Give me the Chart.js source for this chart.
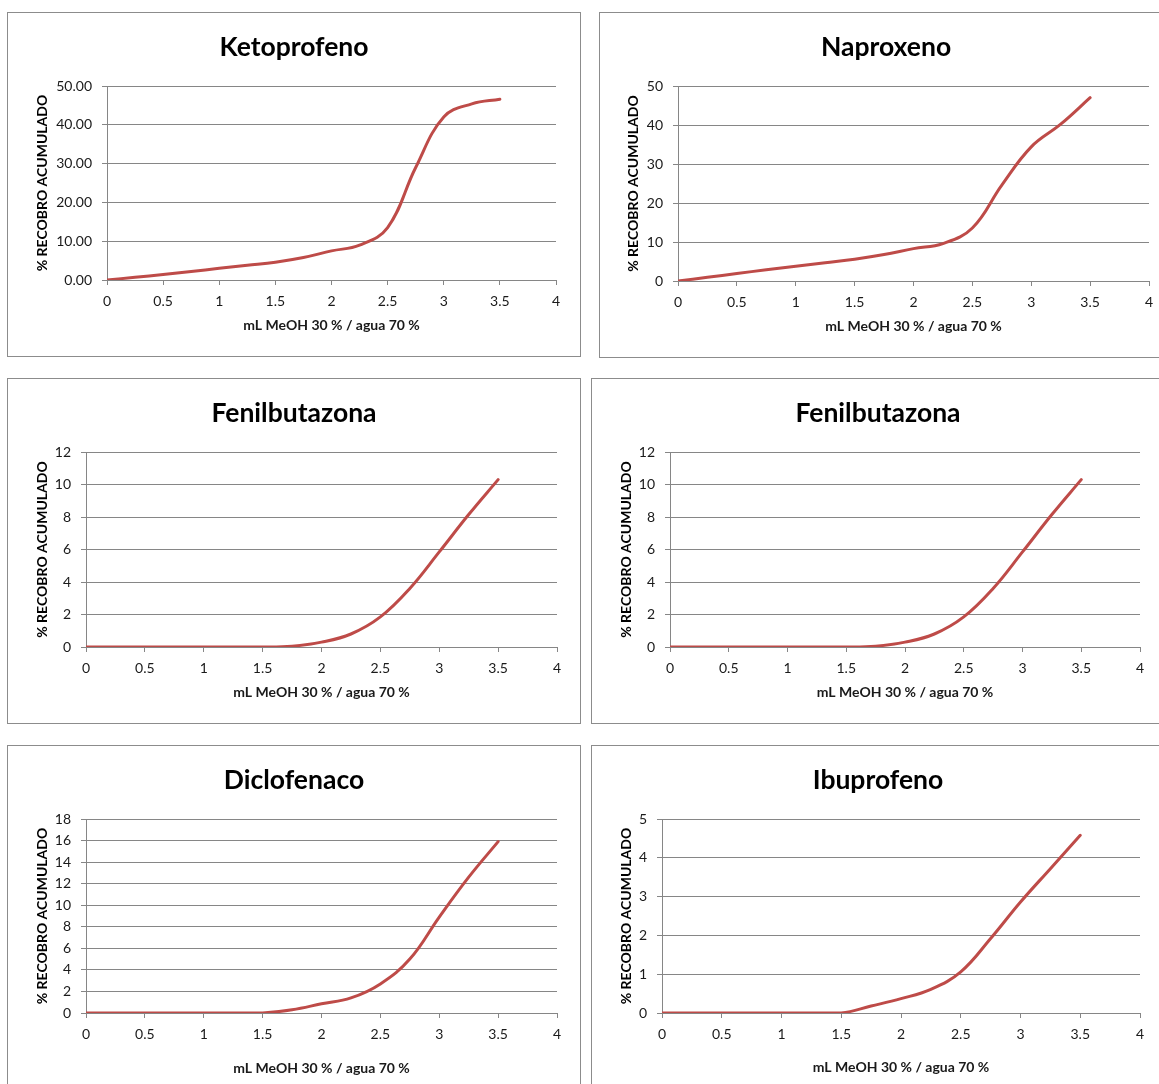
<!DOCTYPE html>
<html>
<head>
<meta charset="utf-8">
<script src="https://cdn.jsdelivr.net/npm/chart.js@4/dist/chart.umd.min.js"></script>
<style>
  html, body { margin: 0; padding: 0; background: #ffffff; overflow: hidden; width: 1159px; height: 1084px; }
  .panel { position: absolute; box-sizing: border-box; border: 1px solid #8c8c8c; background: #fff; }
  .panel canvas { position: absolute; left: 0; top: 0; }
</style>
</head>
<body>
<div id="root"></div>
<script>
// ---------- DATA ----------
const xValues = [0, 0.25, 0.5, 0.75, 1, 1.25, 1.5, 1.75, 2, 2.25, 2.5, 2.75, 3, 3.25, 3.5];
const ketoprofeno   = [0, 0.7, 1.4, 2.2, 3.0, 3.8, 4.6, 5.8, 7.5, 9.0, 13.5, 29.0, 42.0, 45.4, 46.6];
const naproxeno     = [0, 0.95, 1.9, 2.9, 3.8, 4.7, 5.6, 6.8, 8.3, 9.6, 13.6, 24.6, 34.4, 40.2, 47.0];
const fenilbutazona = [0, 0, 0, 0, 0, 0, 0, 0.05, 0.3, 0.8, 1.85, 3.6, 5.85, 8.15, 10.3];
const diclofenaco   = [0, 0, 0, 0, 0, 0, 0, 0.3, 0.85, 1.4, 2.7, 5.0, 8.9, 12.6, 15.9];
const ibuprofeno    = [0, 0, 0, 0, 0, 0, 0, 0.18, 0.37, 0.61, 1.06, 1.92, 2.86, 3.72, 4.58];

const chartTitles = ['Ketoprofeno', 'Naproxeno', 'Fenilbutazona', 'Fenilbutazona', 'Diclofenaco', 'Ibuprofeno'];
const seriesList  = [ketoprofeno, naproxeno, fenilbutazona, fenilbutazona, diclofenaco, ibuprofeno];
const yMaxList    = [50, 50, 12, 12, 18, 5];
const yStepList   = [10, 10, 2, 2, 2, 1];
const yDecimals   = [2, 0, 0, 0, 0, 0];
const xMin = 0, xMax = 4, xStep = 0.5;
const xAxisTitle = 'mL MeOH 30 % / agua 70 %';
const yAxisTitle = '% RECOBRO ACUMULADO';

// ---------- LAYOUT (page pixels) ----------
const layouts = [
  { box: [7, 12, 574, 345],   plot: [107, 86, 556, 280],   titleY: 47,  xTitleY: 325,  yTitleX: 42 },
  { box: [599, 12, 574, 346], plot: [678, 86, 1149, 281],  titleY: 47,  xTitleY: 326,  yTitleX: 633 },
  { box: [7, 378, 574, 346],  plot: [86, 452, 557, 647],   titleY: 413, xTitleY: 692,  yTitleX: 42 },
  { box: [591, 378, 574, 346],plot: [670, 452, 1140, 647], titleY: 413, xTitleY: 692,  yTitleX: 626 },
  { box: [7, 745, 574, 346],  plot: [86, 819, 557, 1013],  titleY: 780, xTitleY: 1068, yTitleX: 42 },
  { box: [591, 745, 574, 346],plot: [662, 819, 1140, 1013],titleY: 780, xTitleY: 1067, yTitleX: 626 }
];

const FONT = "Lato, 'Open Sans', 'DejaVu Sans', sans-serif";
const GRID = '#868686';
const LINE = '#BE4B48';
const titleSize = 26.5, titleLH = titleSize * 1.2;
const axisTitleSize = 14, axisTitleLH = axisTitleSize * 1.2;
const tickSize = 14;

const root = document.getElementById('root');

layouts.forEach((lay, i) => {
  const [bx, by, bw, bh] = lay.box;
  const cx = bx + 1, cy = by + 1, cw = bw - 2, ch = bh - 2;
  const div = document.createElement('div');
  div.className = 'panel';
  div.style.left = bx + 'px'; div.style.top = by + 'px';
  div.style.width = bw + 'px'; div.style.height = bh + 'px';
  const canvas = document.createElement('canvas');
  canvas.width = cw; canvas.height = ch;
  canvas.style.width = cw + 'px'; canvas.style.height = ch + 'px';
  div.appendChild(canvas);
  root.appendChild(div);

  const L = lay.plot[0] - cx, T = lay.plot[1] - cy, R = lay.plot[2] - cx, B = lay.plot[3] - cy;
  const tPadTop = (lay.titleY - cy) - titleLH / 2;
  const tPadBottom = T - tPadTop - titleLH;
  const yTitlePad = (lay.yTitleX - cx) - axisTitleLH / 2;
  const xTitlePad = ch - (lay.xTitleY - cy) - axisTitleLH / 2;

  const points = xValues.map((x, k) => ({ x: x, y: seriesList[i][k] }));

  new Chart(canvas, {
    type: 'line',
    data: {
      datasets: [{
        data: points,
        borderColor: LINE,
        borderWidth: 3,
        pointRadius: 0,
        fill: false,
        tension: 0.4,
        borderCapStyle: 'round',
        borderJoinStyle: 'round'
      }]
    },
    options: {
      responsive: false,
      animation: false,
      devicePixelRatio: 1,
      layout: { padding: 0 },
      plugins: {
        legend: { display: false },
        tooltip: { enabled: false },
        title: {
          display: true,
          text: chartTitles[i],
          color: '#000',
          font: { family: FONT, size: titleSize, weight: 'bold', lineHeight: 1.2 },
          padding: { top: tPadTop, bottom: tPadBottom }
        }
      },
      scales: {
        x: {
          type: 'linear',
          min: xMin, max: xMax,
          afterFit: (s) => { s.height = ch - B; },
          ticks: {
            stepSize: xStep,
            color: '#1a1a1a',
            padding: 8,
            maxRotation: 0,
            font: { family: FONT, size: tickSize },
            callback: (v) => String(v)
          },
          grid: { drawOnChartArea: false, drawTicks: true, tickLength: 5, color: GRID, lineWidth: 1 },
          border: { display: true, color: GRID, width: 1 },
          title: {
            display: true,
            text: xAxisTitle,
            color: '#1a1a1a',
            font: { family: FONT, size: axisTitleSize, weight: 'bold', lineHeight: 1.2 },
            padding: { top: 0, bottom: xTitlePad }
          }
        },
        y: {
          type: 'linear',
          position: 'left',
          min: 0, max: yMaxList[i],
          afterFit: (s) => { s.width = L; },
          ticks: {
            stepSize: yStepList[i],
            color: '#1a1a1a',
            padding: 10,
            font: { family: FONT, size: tickSize },
            callback: (v) => Number(v).toFixed(yDecimals[i])
          },
          grid: { drawOnChartArea: true, drawTicks: true, tickLength: 5, color: GRID, lineWidth: 1 },
          border: { display: true, color: GRID, width: 1 },
          title: {
            display: true,
            text: yAxisTitle,
            color: '#000',
            font: { family: FONT, size: axisTitleSize, weight: 'bold', lineHeight: 1.2 },
            padding: { top: yTitlePad, bottom: 0 }
          }
        },
        rightSpace: {
          type: 'linear',
          position: 'right',
          display: true,
          min: 0, max: 1,
          afterFit: (s) => { s.width = cw - R; },
          ticks: { display: false },
          grid: { display: false, drawTicks: false },
          border: { display: false },
          title: { display: false }
        }
      }
    }
  });
});
</script>
</body>
</html>
